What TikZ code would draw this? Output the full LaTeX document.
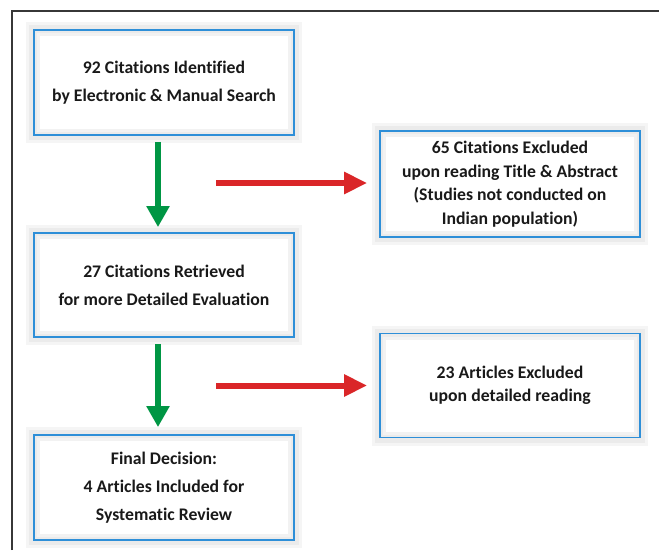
\documentclass[tikz,border=0pt]{standalone}
\usepackage{fontspec}
\setmainfont[Ligatures=NoCommon]{Carlito}
\usetikzlibrary{arrows.meta,calc}
\definecolor{boxblue}{RGB}{46,143,216}
\definecolor{arrgreen}{RGB}{0,150,68}
\definecolor{arrred}{RGB}{218,38,40}
\definecolor{framegray}{RGB}{55,55,55}
\definecolor{textdark}{RGB}{25,25,25}
\tikzset{
  flowbox/.style={rectangle, minimum width=260pt, inner sep=0pt,
    fill=white, draw=boxblue, line width=1.8pt, align=center,
    font=\bfseries\fontsize{17.7}{28}\selectfont, text=textdark,
    preaction={draw=black!4, line width=16pt},
    preaction={draw=black!8, line width=10pt},
    path picture={\draw[black!5, line width=12pt]
      (path picture bounding box.south west) rectangle (path picture bounding box.north east);
      \draw[black!8, line width=6pt]
      (path picture bounding box.south west) rectangle (path picture bounding box.north east);}},
  tight/.style={font=\bfseries\fontsize{17.7}{23.5}\selectfont},
  greenarrow/.style={draw=arrgreen, line width=6pt,
    -{Triangle[width=22pt,length=21pt]}},
  redarrow/.style={draw=arrred, line width=6pt,
    -{Triangle[width=21pt,length=23pt]}},
}
\begin{document}
\begin{tikzpicture}[x=1pt,y=-1pt]
\useasboundingbox[fill=white] (0,0) rectangle (659,550);
\draw[framegray, line width=1.4pt] (12,550) -- (12,11) -- (659,11);

\node[flowbox, minimum height=105pt] (b1) at (164,82.5)
  {92 Citations Identified\\by Electronic \& Manual Search};
\node[flowbox, tight, minimum height=106pt] (b2) at (510,184)
  {65 Citations Excluded\\upon reading Title \& Abstract\\(Studies not conducted on\\Indian population)};
\node[flowbox, minimum height=104pt] (b3) at (164,285)
  {27 Citations Retrieved\\for more Detailed Evaluation};
\node[flowbox, tight, minimum height=104pt] (b4) at (510,385.5)
  {23 Articles Excluded\\upon detailed reading};
\node[flowbox, minimum height=105pt] (b5) at (164,487.5)
  {Final Decision:\\4 Articles Included for\\Systematic Review};

\coordinate (r1s) at ($(b2.west)+(-163,-1)$);
\coordinate (r2s) at ($(b4.west)+(-163,0)$);

\draw[greenarrow] ($(b1.south)+(-6,6)$) -- ($(b3.north)+(-6,-5)$);
\draw[greenarrow] ($(b3.south)+(-6,6)$) -- ($(b5.north)+(-6,-7)$);
\draw[redarrow] (r1s) -- ($(b2.west)+(-12,-1)$);
\draw[redarrow] (r2s) -- ($(b4.west)+(-12,0)$);
\end{tikzpicture}
\end{document}
